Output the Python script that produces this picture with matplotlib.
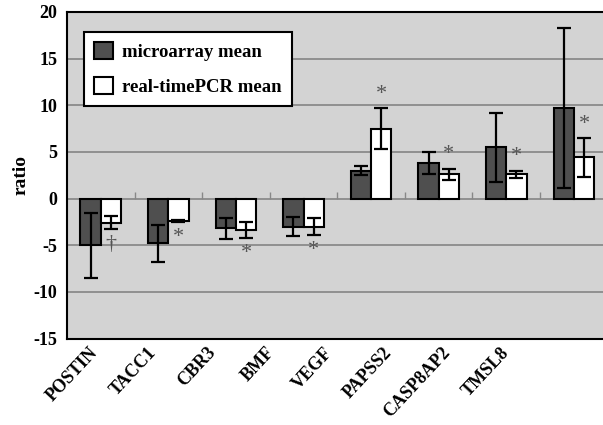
#!/usr/bin/env python3

import numpy as np
import matplotlib
matplotlib.use('Agg')
import matplotlib.pyplot as plt

# values
genes = ['POSTIN', 'TACC1', 'CBR3', 'BMF', 'VEGF', 'PAPSS2', 'CASP8AP2', 'TMSL8']
micro = [-5.0, -4.8, -3.2, -3.0, 3.0, 3.8, 5.5, 9.7]
micro_err = [3.5, 2.0, 1.1, 1.0, 0.45, 1.2, 3.7, 8.6]
pcr = [-2.6, -2.4, -3.4, -3.0, 7.5, 2.6, 2.6, 4.4]
pcr_err = [0.7, 0.1, 0.85, 0.95, 2.2, 0.6, 0.4, 2.05]
marks = ['\u2020', '*', '*', '*', '*', '*', '*', '*']

plt.rcParams['font.family'] = ['Liberation Serif', 'DejaVu Serif']
plt.rcParams['font.weight'] = 'bold'
plt.rcParams['axes.unicode_minus'] = False

fig = plt.figure(figsize=(6.03, 4.25), dpi=100)
ax = fig.add_axes([0.111, 0.2035, 0.899, 0.7685])
ax.set_facecolor('#d3d3d3')

x = np.arange(len(genes))
w = 0.3
err_kw = dict(ecolor='black', elinewidth=1.6, capsize=4.8, capthick=1.6)
ax.bar(x - w / 2, micro, w, yerr=micro_err, color='#4f4f4f', edgecolor='black',
       linewidth=1.5, label='microarray mean', error_kw=err_kw, zorder=3)
ax.bar(x + w / 2, pcr, w, yerr=pcr_err, color='white', edgecolor='black',
       linewidth=1.5, label='real-timePCR mean', error_kw=err_kw, zorder=3)

# significance marks next to the real-time PCR bars
for i, (v, e, m) in enumerate(zip(pcr, pcr_err, marks)):
    if v >= 0:
        ax.annotate(m, (x[i] + w / 2, v + e), xytext=(0, 10), textcoords='offset points',
                    ha='center', va='center', fontsize=16, color='#555555', fontweight='normal')
    else:
        ax.annotate(m, (x[i] + w / 2, v - e), xytext=(0, -11), textcoords='offset points',
                    ha='center', va='center', fontsize=16, color='#555555', fontweight='normal')

# small category ticks on the zero line
ax.vlines(x[:-1] + 0.5, 0, 0.7, color='#888888', linewidth=1, zorder=2)

ax.set_xlim(-0.5, len(genes) - 0.48)
ax.set_ylim(-15, 20)
ax.set_yticks(np.arange(-15, 21, 5))
ax.yaxis.grid(True, color='#8a8a8a', linewidth=1.3)
ax.set_axisbelow(True)
ax.tick_params(axis='y', length=0, pad=7, labelsize=13)
ax.tick_params(axis='x', length=0, pad=4, labelsize=13)
# the category names sit a little tighter than the bars in the original
ax.set_xticks(x * 0.87 - 0.18)
ax.set_xticklabels(genes, rotation=47, ha='right', rotation_mode='anchor')
for s in ax.spines.values():
    s.set_linewidth(1.5)
ax.set_ylabel('ratio', fontsize=14, fontweight='bold', labelpad=3)

leg = ax.legend(loc='upper left', bbox_to_anchor=(0.031, 0.939), borderaxespad=0,
                fancybox=False, framealpha=1, edgecolor='black', fontsize=13.5,
                handlelength=1.0, handleheight=1.0, handletextpad=0.5,
                labelspacing=0.85, borderpad=0.55)
leg.get_frame().set_linewidth(1.5)

fig.savefig('out.png', dpi=100)
